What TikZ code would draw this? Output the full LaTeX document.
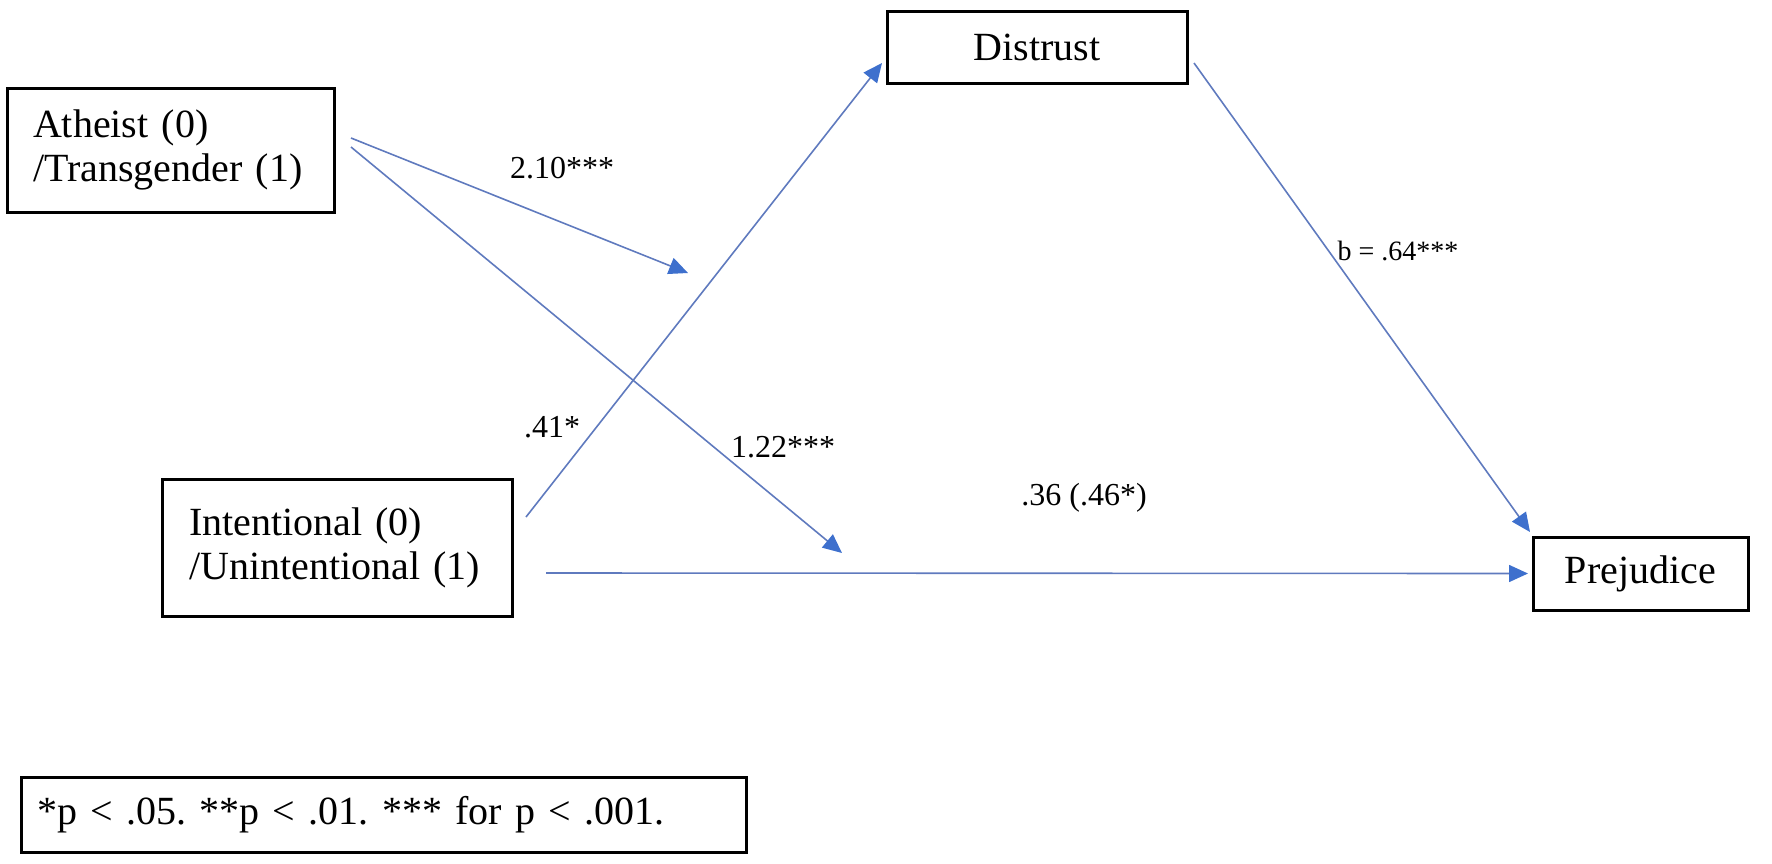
\documentclass[tikz,border=0pt]{standalone}
\usepackage{fontspec}
\setmainfont{Liberation Serif}
\usetikzlibrary{arrows.meta,calc}
\definecolor{lineblue}{RGB}{95,122,190}
\definecolor{headblue}{RGB}{62,112,205}
\frenchspacing
\begin{document}
\begin{tikzpicture}[x=0.5pt,y=-0.5pt,
  box/.style={draw=black,line width=1.5pt,rectangle,outer sep=0pt,inner ysep=0pt,font=\fontsize{20}{22}\selectfont},
  conn/.style={draw=lineblue,line width=0.8pt,-{Triangle[length=9.5pt,width=8.5pt,fill=headblue,color=headblue]}},
  lbl/.style={font=\fontsize{16}{18}\selectfont,inner sep=0pt}]
\useasboundingbox (0,0) rectangle (1772,863);
% boxes
\node[box,text width=137.5pt,inner xsep=13pt,minimum height=62pt,align=left] (ath) at (170.5,150) {Atheist (0)\\/Transgender (1)};
\node[box,text width=148pt,inner xsep=13.5pt,minimum height=68.5pt,align=left] (int) at (337,547.5) {Intentional (0)\\/Unintentional (1)};
\node[box,minimum width=150pt,minimum height=36pt] (dis) at (1037,47) {Distrust};
\node[box,minimum width=107.5pt,minimum height=36.5pt] (pre) at (1640.5,573.5) {Prejudice};
\node[box,text width=346.5pt,inner xsep=8pt,minimum height=37.5pt,align=left] (note) at (383.5,814.5) {\frenchspacing *p < .05. **p < .01. *** for p < .001.};
% connector ends
\coordinate (a1e) at (688,273);
\coordinate (a2e) at (842,553);
% connectors
\draw[conn] ($(ath.east)+(17,-12)$) -- (a1e);
\draw[conn] ($(ath.east)+(17,-3)$) -- (a2e);
\draw[conn] ($(int.east)+(14,-30.5)$) -- ($(dis.west)+(-5,16)$);
\draw[conn] ($(dis.east)+(7,16)$) -- ($(pre.north west)+(-3,-5)$);
\draw[conn] ($(int.east)+(34,25.5)$) -- ($(pre.west)+(-5,0)$);
% labels
\node[lbl] (l1) at (562,168) {2.10***};
\node[lbl] (l2) at (552,427) {.41*};
\node[lbl] (l3) at (783,447) {1.22***};
\node[lbl] (l4) at (1084,498) {.36 (.46*)};
\node[lbl,font=\fontsize{14}{16}\selectfont] (l5) at (1398,251) {b = .64***};
\end{tikzpicture}
\end{document}
